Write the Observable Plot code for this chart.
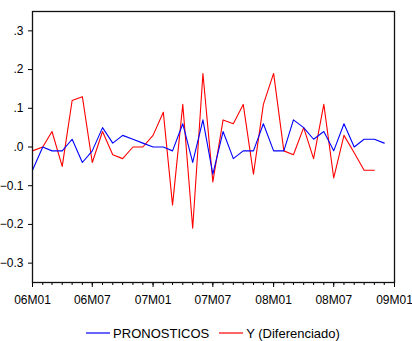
<!DOCTYPE html>
<html>
<head>
<meta charset="utf-8">
<script src="https://cdn.jsdelivr.net/npm/d3@7"></script>
<script src="https://cdn.jsdelivr.net/npm/@observablehq/plot@0.6"></script>
<style>
  html, body { margin: 0; padding: 0; background: #fff; }
  #legend { width: 398px; margin-left: 14px; margin-top: 15px; height: 16px; display: flex; justify-content: center; align-items: center;
    font-family: "Liberation Sans", Arial, sans-serif; font-size: 13px; line-height: 15px; color: #000; }
  .item { display: flex; align-items: center; }
  .sw { width: 24px; height: 2px; margin-right: 3px; opacity: 0.6; }
</style>
</head>
<body>
<div id="chart"></div>
<div id="legend"></div>
<script>
// Series (monthly, starting 2006M01)
const startMonth = "2006-01";
const pronosticos = [-0.06, 0.00, -0.01, -0.01, 0.02, -0.04, -0.01, 0.05, 0.01, 0.03, 0.02, 0.01,
  0.00, 0.00, -0.01, 0.06, -0.04, 0.07, -0.07, 0.04, -0.03, -0.01, -0.01, 0.06,
  -0.01, -0.01, 0.07, 0.05, 0.02, 0.04, -0.01, 0.06, 0.00, 0.02, 0.02, 0.01];
const yDiferenciado = [-0.01, 0.00, 0.04, -0.05, 0.12, 0.13, -0.04, 0.04, -0.02, -0.03, 0.00, 0.00,
  0.03, 0.09, -0.15, 0.11, -0.21, 0.19, -0.09, 0.07, 0.06, 0.11, -0.07, 0.11,
  0.19, -0.01, -0.02, 0.05, -0.03, 0.11, -0.08, 0.03, -0.015, -0.06, -0.06];
const seriesNames = ["PRONOSTICOS", "Y (Diferenciado)"];
const seriesColors = ["#0000ff", "#ff0000"];
const xTickLabels = ["06M01", "06M07", "07M01", "07M07", "08M01", "08M07", "09M01"];
const yTicks = [-0.3, -0.2, -0.1, 0.0, 0.1, 0.2, 0.3];
const yDomain = [-0.35, 0.35];

const parseLabel = s => new Date(Date.UTC(2000 + +s.slice(0, 2), +s.slice(3) - 1, 1));
const xTickDates = xTickLabels.map(parseLabel);
const [sy, sm] = startMonth.split("-").map(Number);
const monthDate = i => new Date(Date.UTC(sy, sm - 1 + i, 1));
const xDomain = [xTickDates[0], xTickDates[xTickDates.length - 1]];
const minorTicks = d3.utcMonths(xDomain[0], d3.utcMonth.offset(xDomain[1], 1));

const blueData = pronosticos.map((v, i) => ({date: monthDate(i), value: v}));
const redData = yDiferenciado.map((v, i) => ({date: monthDate(i), value: v}));

const fmtY = d => {
  let s = d3.format(".1f")(Math.abs(d) < 1e-9 ? 0 : d);
  return s.replace(/^(-?)0\./, "$1.");
};

const chart = Plot.plot({
  width: 412,
  height: 310,
  marginLeft: 32,
  marginRight: 18,
  marginTop: 11,
  marginBottom: 28,
  style: {fontFamily: "'Liberation Sans', Arial, sans-serif", fontSize: "12px", background: "#fff", color: "#000", overflow: "visible"},
  x: {type: "utc", domain: xDomain},
  y: {domain: yDomain},
  marks: [
    Plot.axisY({ticks: yTicks, tickFormat: fmtY, tickSize: 4, tickPadding: 5, label: null, stroke: "#000"}),
    Plot.axisX({ticks: minorTicks, tickFormat: () => "", tickSize: 3, label: null, stroke: "#000"}),
    Plot.axisX({ticks: xTickDates, tickFormat: (d, i) => xTickLabels[i], tickSize: 5, tickPadding: 8, label: null, stroke: "#000"}),
    Plot.line(redData, {x: "date", y: "value", stroke: seriesColors[1], strokeWidth: 1.1}),
    Plot.line(blueData, {x: "date", y: "value", stroke: seriesColors[0], strokeWidth: 1.1}),
    Plot.frame({stroke: "#111", strokeWidth: 1.3})
  ]
});
document.getElementById("chart").appendChild(chart);

const legend = document.getElementById("legend");
seriesNames.forEach((name, i) => {
  const item = document.createElement("div");
  item.className = "item";
  if (i > 0) item.style.marginLeft = "10px";
  const sw = document.createElement("span");
  sw.className = "sw";
  sw.style.background = seriesColors[i];
  const t = document.createElement("span");
  t.textContent = name;
  item.appendChild(sw);
  item.appendChild(t);
  legend.appendChild(item);
});
</script>
</body>
</html>
